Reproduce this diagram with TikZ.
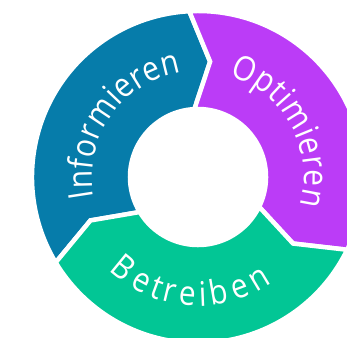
\documentclass[tikz,border=0pt]{standalone}
\usepackage{fontspec}
\newfontfamily\ringfont[FakeStretch=0.88]{Open Sans}
\usetikzlibrary{decorations.text}

\tikzset{
  segment/.style={draw=white, line width=4.5pt, line join=miter},
  ringtext/.style={decorate, decoration={text effects along path, text={#1},
      text effects/.cd, text along path, fit text to path,
      characters={text=white, inner sep=0pt, font=\ringfont\fontsize{34}{35}\selectfont}}}
}

\begin{document}
\begin{tikzpicture}[x=1pt, y=1pt, font=\ringfont\fontsize{34}{35}\selectfont]
\definecolor{infoblau}{RGB}{6,124,170}
\definecolor{optilila}{RGB}{187,60,247}
\definecolor{betrgruen}{RGB}{2,198,149}
	\useasboundingbox (-198,-160) rectangle (149,177);
	\clip (-198,-160) rectangle (149,177);

	\filldraw[segment, fill=infoblau] (211:166) arc[start angle=211, end angle=93, radius=166]
		-- (84:116) -- (93:68) arc[start angle=93, end angle=211, radius=68] -- (202:116) -- cycle;
	\filldraw[segment, fill=optilila] (93:166) arc[start angle=93, end angle=-26, radius=166]
		-- (-35:116) -- (-26:68) arc[start angle=-26, end angle=93, radius=68] -- (84:116) -- cycle;
	\filldraw[segment, fill=betrgruen] (-26:166) arc[start angle=-26, end angle=-149, radius=166]
		-- (-158:116) -- (-149:68) arc[start angle=-149, end angle=-26, radius=68] -- (-35:116) -- cycle;

	\path[ringtext=Informieren] (191:106) arc[start angle=191, end angle=99, radius=106];
	\path[ringtext=Optimieren] (73:106) arc[start angle=73, end angle=-15.5, radius=106];
	\path[ringtext=Betreiben] (226.5:129) arc[start angle=226.5, end angle=305, radius=129];
\end{tikzpicture}
\end{document}
